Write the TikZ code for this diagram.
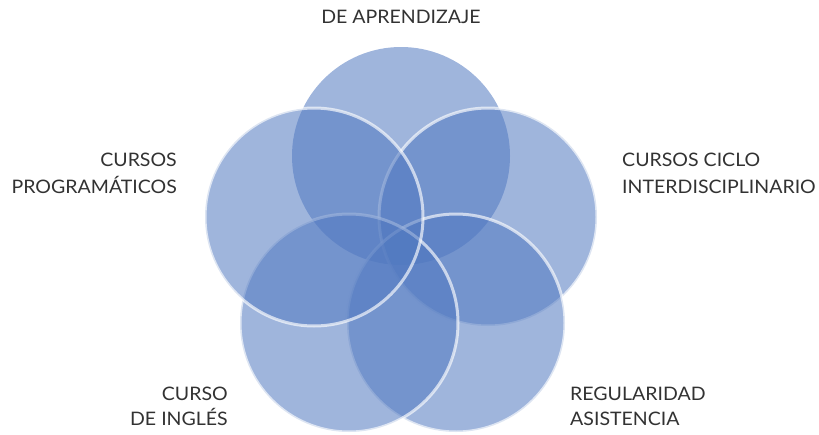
\documentclass[tikz,border=0pt]{standalone}
\usepackage{fontspec}
\setmainfont[FakeStretch=1.05]{Lato}
\definecolor{bubbleblue}{RGB}{80,120,192}
\definecolor{txtgray}{RGB}{50,50,50}
\begin{document}
\begin{tikzpicture}[x=1pt,y=-1pt,
  bubble/.style={circle, inner sep=0pt, minimum size=218pt, fill=bubbleblue, fill opacity=0.55,
                 draw=white, draw opacity=0.65, line width=3pt},
  bubbletop/.style={circle, inner sep=0pt, minimum size=218pt, fill=bubbleblue, fill opacity=0.55},
  lbl/.style={inner sep=0pt, text=txtgray, font=\fontsize{18.6pt}{22pt}\selectfont}]
\useasboundingbox (0,0) rectangle (819,434);
% circles (drawing order matters)
\node[bubbletop] (ctop) at (401,156) {};
\node[bubble] (cright) at (488,217) {};
\node[bubble] (cbr) at (456,323) {};
\node[bubble] (cbl) at (349,323) {};
\node[bubble] (cleft) at (314,217) {};
% labels
\node[lbl, anchor=base] (ttop) at (401,23) {DE APRENDIZAJE};
\node[lbl, anchor=base east] (tl1) at (177,166) {CURSOS};
\node[lbl, anchor=base east] (tl2) at (177,193) {PROGRAMÁTICOS};
\node[lbl, anchor=base west] (tr1) at (622,166) {CURSOS CICLO};
\node[lbl, anchor=base west] (tr2) at (622,193) {INTERDISCIPLINARIO};
\node[lbl, anchor=base east] (tbl1) at (228,400) {CURSO};
\node[lbl, anchor=base east] (tbl2) at (228,425) {DE INGLÉS};
\node[lbl, anchor=base west] (tbr1) at (570,400) {REGULARIDAD};
\node[lbl, anchor=base west] (tbr2) at (570,425) {ASISTENCIA};
\end{tikzpicture}
\end{document}
